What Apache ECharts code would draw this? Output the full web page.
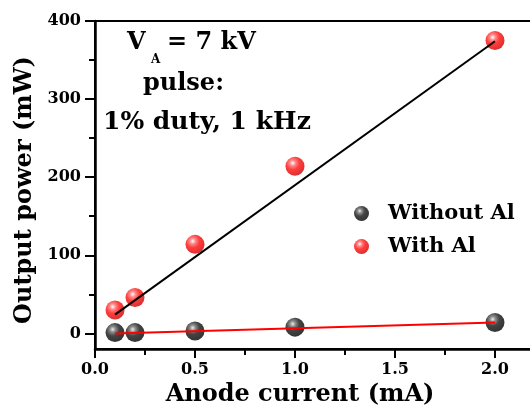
<!DOCTYPE html>
<html>
<head>
<meta charset="utf-8">
<script src="https://cdn.jsdelivr.net/npm/echarts@6/dist/echarts.min.js"></script>
<style>html,body{margin:0;padding:0;background:#fff}#c{width:530px;height:410px}</style>
</head>
<body>
<div id="c"></div>
<script>
// ---- data ----
const anodeCurrent = [0.1, 0.2, 0.5, 1.0, 2.0];           // mA
const powerWithoutAl = [1, 1, 3, 8, 14];                 // mW
const powerWithAl = [30, 46, 114, 214, 375];             // mW
const fitWithAlX = [0.1, 2.0];
const fitWithAlY = [24, 374];
const fitWithoutAlX = [0.1, 2.0];
const fitWithoutAlY = [0, 14];
const yTickValues = [0, 100, 200, 300, 400];
const yMinorValues = [50, 150, 250, 350];
const seriesNames = ['Without Al', 'With Al'];

const FONT = 'DejaVu Serif';
const pair = (xs, ys) => xs.map((x, i) => [x, ys[i]]);

const redBall = {type:'radial', x:0.38, y:0.33, r:0.7, colorStops:[
  {offset:0, color:'#ffffff'}, {offset:0.22, color:'#ff6a6a'}, {offset:0.5, color:'#ff0d0d'}, {offset:0.85, color:'#e00000'}, {offset:1, color:'#b80000'}]};
const blackBall = {type:'radial', x:0.38, y:0.33, r:0.7, colorStops:[
  {offset:0, color:'#e8e8e8'}, {offset:0.22, color:'#6a6a6a'}, {offset:0.5, color:'#151515'}, {offset:1, color:'#000000'}]};

const chart = echarts.init(document.getElementById('c'));
chart.setOption({
  animation: false,
  backgroundColor: '#ffffff',
  grid: {left: 95, top: 21, width: 500, bottom: 61, outerBoundsMode: 'none', containLabel: false,
    show: true, borderColor: '#000', borderWidth: 2, backgroundColor: 'transparent'},
  xAxis: {
    type: 'value', min: 0, max: 2.5, interval: 0.5,
    name: 'Anode current (mA)', nameLocation: 'middle', nameGap: 32,
    nameTextStyle: {fontFamily: FONT, fontWeight: 'bold', fontSize: 24, color: '#000', padding: [0, 90, 0, 0]},
    axisLine: {onZero: false, lineStyle: {color: '#000', width: 2.5}},
    axisTick: {length: 9, lineStyle: {color: '#000', width: 2}},
    minorTick: {show: true, splitNumber: 2, length: 6, lineStyle: {color: '#000', width: 2}},
    splitLine: {show: false},
    axisLabel: {margin: 13, fontFamily: FONT, fontWeight: 'bold', fontSize: 16, color: '#000',
      showMaxLabel: false, formatter: v => v.toFixed(1)}
  },
  yAxis: [{
    type: 'value', min: -20, max: 400,
    name: 'Output power (mW)', nameLocation: 'middle', nameGap: 58, nameRotate: 90,
    nameTextStyle: {fontFamily: FONT, fontWeight: 'bold', fontSize: 24, color: '#000', padding: [0, 10, 0, 0]},
    axisLine: {onZero: false, lineStyle: {color: '#000', width: 2.5}},
    axisTick: {length: 10, customValues: yTickValues, lineStyle: {color: '#000', width: 2}},
    splitLine: {show: false},
    axisLabel: {margin: 14, customValues: yTickValues, fontFamily: FONT, fontWeight: 'bold', fontSize: 16, color: '#000'}
  }, {
    type: 'value', min: -20, max: 400, position: 'left',
    axisLine: {show: false, onZero: false},
    axisTick: {length: 6, customValues: yMinorValues, lineStyle: {color: '#000', width: 2}},
    axisLabel: {show: false}, splitLine: {show: false}
  }],
  legend: {
    orient: 'vertical', left: 349, top: 198, itemWidth: 15, itemHeight: 15, itemGap: 12,
    data: seriesNames,
    textStyle: {fontFamily: FONT, fontWeight: 'bold', fontSize: 21, color: '#000', padding: [0, 0, 0, 14]}
  },
  series: [
    {name: 'With Al', type: 'scatter', symbol: 'circle', symbolSize: 19,
      itemStyle: {color: redBall}, data: pair(anodeCurrent, powerWithAl)},
    {type: 'line', symbol: 'none', lineStyle: {color: '#000', width: 2}, data: pair(fitWithAlX, fitWithAlY)},
    {type: 'line', symbol: 'none', lineStyle: {color: '#ff0000', width: 2}, data: pair(fitWithoutAlX, fitWithoutAlY)},
    {name: 'Without Al', type: 'scatter', symbol: 'circle', symbolSize: 19,
      itemStyle: {color: blackBall}, data: pair(anodeCurrent, powerWithoutAl)}
  ],
  graphic: [
    {type: 'text', left: 127, top: 31, style: {text: 'V', font: 'bold 24px "DejaVu Serif"', fill: '#000'}},
    {type: 'text', left: 151, top: 54, style: {text: 'A', font: 'bold 12px "DejaVu Serif"', fill: '#000'}},
    {type: 'text', left: 167, top: 31, style: {text: '= 7 kV', font: 'bold 24px "DejaVu Serif"', fill: '#000'}},
    {type: 'text', left: 143, top: 72, style: {text: 'pulse:', font: 'bold 24px "DejaVu Serif"', fill: '#000'}},
    {type: 'text', left: 103, top: 110, style: {text: '1% duty, 1 kHz', font: 'bold 25px "DejaVu Serif"', fill: '#000'}}
  ]
});
</script>
</body>
</html>
